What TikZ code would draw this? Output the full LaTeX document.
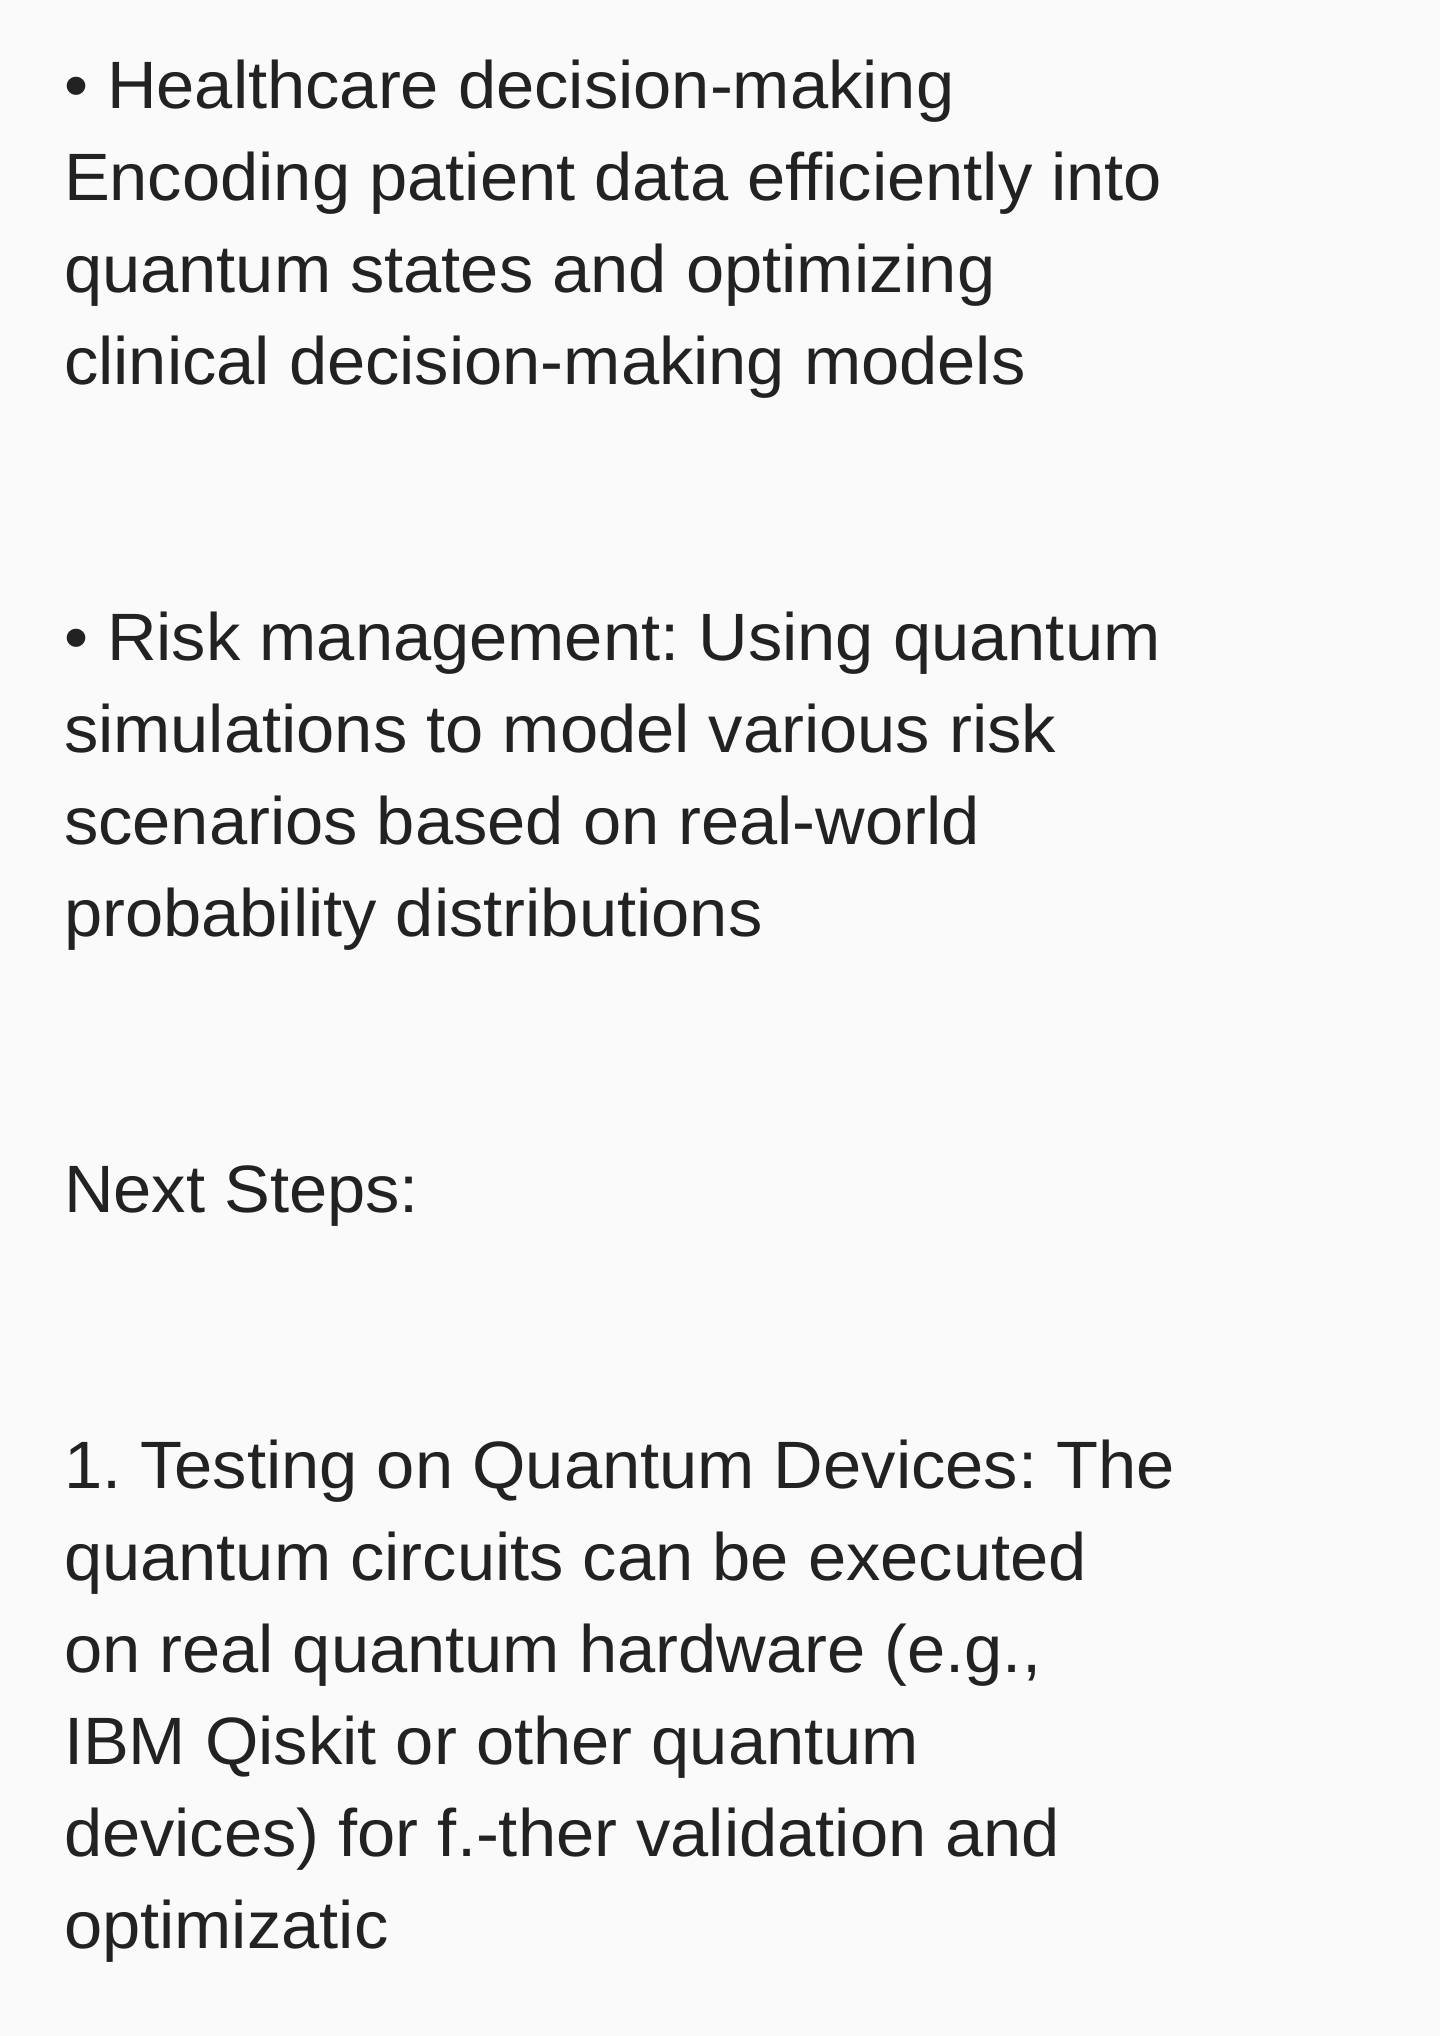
\documentclass[tikz,border=0pt]{standalone}
\usepackage{fontspec}
\setmainfont[FakeStretch=1.025]{Liberation Sans}
\definecolor{bg}{HTML}{FAFAFA}
\definecolor{ink}{HTML}{222222}
\frenchspacing
\begin{document}
\begin{tikzpicture}[x=1pt,y=1pt,
  ln/.style={anchor=base west,inner sep=0pt,outer sep=0pt,text=ink,font=\fontsize{33.5}{46}\selectfont}]
\fill[bg] (0,0) rectangle (720,-1018);
\useasboundingbox (0,0) rectangle (720,-1018);
\node[ln] (l0) at (32,-54) {• Healthcare decision-making};
\node[ln] (l1) at (32,-100) {Encoding patient data efficiently into};
\node[ln] (l2) at (32,-146) {quantum states and optimizing};
\node[ln] (l3) at (32,-192) {clinical decision-making models};
\node[ln] (l6) at (32,-330) {• Risk management: Using quantum};
\node[ln] (l7) at (32,-376) {simulations to model various risk};
\node[ln] (l8) at (32,-422) {scenarios based on real-world};
\node[ln] (l9) at (32,-468) {probability distributions};
\node[ln] (l12) at (32,-606) {Next Steps:};
\node[ln] (l15) at (32,-744) {1. Testing on Quantum Devices: The};
\node[ln] (l16) at (32,-790) {quantum circuits can be executed};
\node[ln] (l17) at (32,-836) {on real quantum hardware (e.g.,};
\node[ln] (l18) at (32,-882) {IBM Qiskit or other quantum};
\node[ln] (l19) at (32,-928) {devices) for f.-ther validation and};
\node[ln] (l20) at (32,-974) {optimizatic};
\end{tikzpicture}
\end{document}
